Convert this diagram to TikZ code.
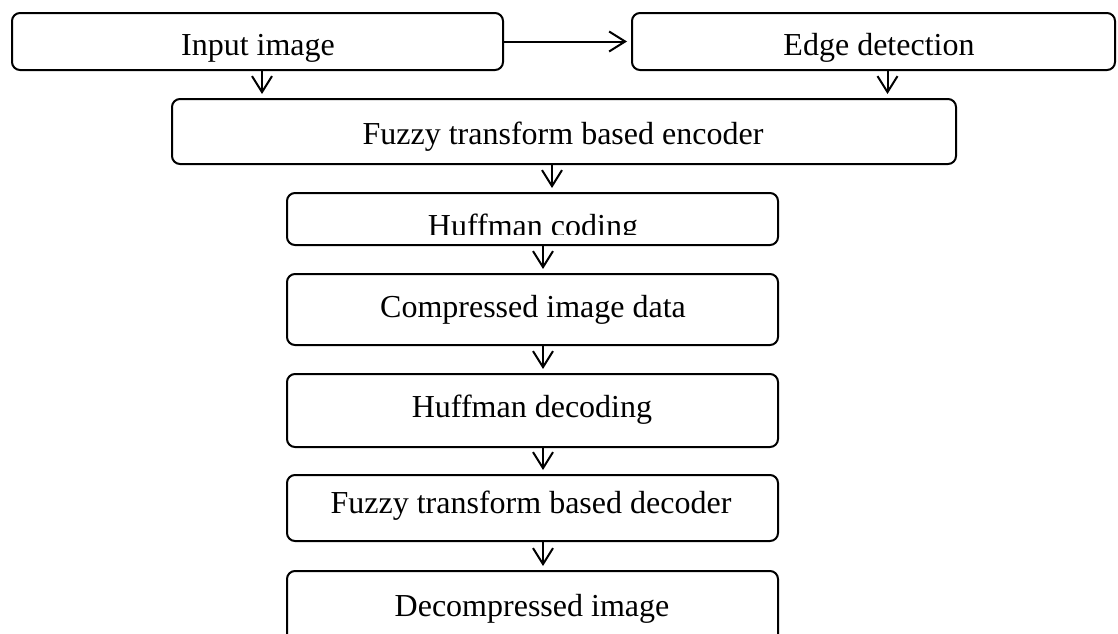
\documentclass[tikz,border=0pt]{standalone}
\usepackage{fontspec}
\setmainfont{Liberation Serif}
\usetikzlibrary{arrows.meta}
\begin{document}
\begin{tikzpicture}[x=0.5pt,y=-0.5pt,
  box/.style={draw, line width=1pt, rounded corners=4pt, inner sep=0pt},
  lbl/.style={anchor=base, inner sep=0pt, font=\fontsize{16}{19}\selectfont},
  arr/.style={line width=1pt, -{Straight Barb[length=8pt,width=10pt,line width=1pt]}, shorten >=2pt}]
\clip (0,0) rectangle (1118,633);
\fill[white] (0,0) rectangle (1118,633);
% boxes
\node[box, minimum width=245.5pt, minimum height=28.5pt] (input) at (257.5,41.5) {};
\node[box, minimum width=241.5pt, minimum height=28.5pt] (edge) at (873.5,41.5) {};
\node[box, minimum width=392pt, minimum height=32.5pt] (fenc) at (564,131.5) {};
\node[box, minimum width=245.5pt, minimum height=26pt] (huff) at (532.5,219) {};
\node[box, minimum width=245.5pt, minimum height=35.5pt] (comp) at (532.5,309.5) {};
\node[box, minimum width=245.5pt, minimum height=36.5pt] (hdec) at (532.5,410.5) {};
\node[box, minimum width=245.5pt, minimum height=33pt] (fdec) at (532.5,508) {};
\node[box, minimum width=245.5pt, minimum height=44.5pt] (dcmp) at (532.5,615.5) {};
% labels
\begin{scope}
  \clip (0,0) rectangle (1118,63);
  \node[lbl] (input-t) at (258,55) {Input image};
  \node[lbl] (edge-t) at (879,55) {Edge detection};
\end{scope}
\begin{scope}
  \clip (0,180) rectangle (1118,234);
  \node[lbl] (huff-t) at (533,236) {Huffman coding};
\end{scope}
\node[lbl] (fenc-t) at (563,144) {Fuzzy transform based encoder};
\node[lbl] (comp-t) at (533,317) {Compressed image data};
\node[lbl] (hdec-t) at (532,417) {Huffman decoding};
\node[lbl] (fdec-t) at (531,513) {Fuzzy transform based decoder};
\node[lbl] (dcmp-t) at (532,616) {Decompressed image};
% connectors
\draw[arr] (input.east) -- (edge.west);
\draw[arr] ([xshift=2.25pt]input.south) -- ([xshift=2.25pt]input.south |- fenc.north);
\draw[arr] ([xshift=7pt]edge.south) -- ([xshift=7pt]edge.south |- fenc.north);
\draw[arr] ([xshift=-6pt]fenc.south) -- ([xshift=-6pt]fenc.south |- huff.north);
\draw[arr] ([xshift=5.25pt]huff.south) -- ([xshift=5.25pt]huff.south |- comp.north);
\draw[arr] ([xshift=5.25pt]comp.south) -- ([xshift=5.25pt]comp.south |- hdec.north);
\draw[arr] ([xshift=5.25pt]hdec.south) -- ([xshift=5.25pt]hdec.south |- fdec.north);
\draw[arr] ([xshift=5.25pt]fdec.south) -- ([xshift=5.25pt]fdec.south |- dcmp.north);
\end{tikzpicture}
\end{document}
